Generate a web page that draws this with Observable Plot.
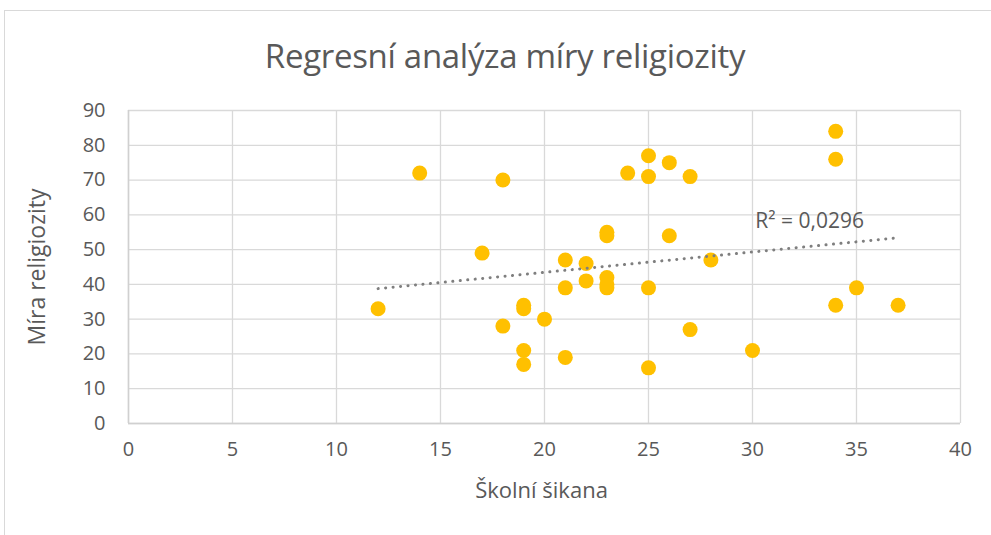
<!DOCTYPE html>
<html>
<head>
<meta charset="utf-8">
<script src="https://cdn.jsdelivr.net/npm/d3@7"></script>
<script src="https://cdn.jsdelivr.net/npm/@observablehq/plot@0.6"></script>
<style>
  html, body { margin: 0; padding: 0; background: #fff; }
  #wrap { position: relative; width: 991px; height: 535px; overflow: hidden; font-family: "Open Sans", "Noto Sans", sans-serif; }
  #border { position: absolute; left: 4px; top: 10px; width: 1000px; height: 600px; border: 1px solid #d9d9d9; box-sizing: border-box; }
  #title { position: absolute; left: 0; top: 33px; width: 1010px; text-align: center; font-size: 33px; color: #595959; font-weight: 400; letter-spacing: -0.3px; }
  #chart { position: absolute; left: 0; top: 0; }
</style>
</head>
<body>
<div id="wrap">
  <div id="border"></div>
  <div id="title">Regresní analýza míry religiozity</div>
  <div id="chart"></div>
</div>
<script>
const skolniSikana = [12, 14, 17, 18, 18, 19, 19, 19, 19, 20, 21, 21, 21, 22, 22, 23, 23, 23, 23, 23, 24, 25, 25, 25, 25, 26, 26, 27, 27, 28, 30, 34, 34, 34, 35, 37];
const miraReligiozity = [33, 72, 49, 70, 28, 34, 33, 21, 17, 30, 47, 39, 19, 46, 41, 55, 54, 42, 40, 39, 72, 77, 71, 39, 16, 75, 54, 71, 27, 47, 21, 84, 76, 34, 39, 34];
const xTicks = [0, 5, 10, 15, 20, 25, 30, 35, 40];
const yTicks = [0, 10, 20, 30, 40, 50, 60, 70, 80, 90];
const r2Label = ["R² = 0,0296"];
const r2LabelX = [32.75];
const r2LabelY = [58.1];

const data = skolniSikana.map((x, i) => ({x, y: miraReligiozity[i]}));
const labels = r2Label.map((t, i) => ({t, x: r2LabelX[i], y: r2LabelY[i]}));

const chart = Plot.plot({
  width: 991,
  height: 535,
  marginLeft: 128,
  marginRight: 31,
  marginTop: 110,
  marginBottom: 112,
  style: { fontFamily: "'Open Sans', 'Noto Sans', sans-serif", fontSize: "19px", color: "#595959", background: "transparent" },
  x: { domain: [0, 40], ticks: xTicks, label: null, axis: null },
  y: { domain: [0, 90], ticks: yTicks, label: null, axis: null },
  marks: [
    Plot.gridX(xTicks, { stroke: "#d9d9d9", strokeOpacity: 1, strokeWidth: 1.3 }),
    Plot.gridY(yTicks, { stroke: "#d9d9d9", strokeOpacity: 1, strokeWidth: 1.3 }),
    Plot.ruleY([0], { stroke: "#d0d0d0", strokeWidth: 1.5 }),
    Plot.ruleX([0], { stroke: "#d0d0d0", strokeWidth: 1.5 }),
    Plot.text(xTicks, { x: d => d, frameAnchor: "bottom", dy: 32, fontSize: 20, fill: "#595959" }),
    Plot.text(yTicks, { y: d => d, frameAnchor: "left", textAnchor: "end", dx: -23, fontSize: 20, fill: "#595959" }),
    Plot.dot(data, { x: "x", y: "y", r: 7.5, fill: "#FFC000", stroke: "none" }),
    Plot.linearRegressionY(data, { x: "x", y: "y", ci: 0, stroke: "#7f7f7f", strokeWidth: 3, strokeLinecap: "round", strokeDasharray: "0.1 7.4" }),
    Plot.text(labels, { x: "x", y: "y", text: "t", fontSize: 21, fill: "#595959" }),
    Plot.text(["Školní šikana"], { frameAnchor: "bottom", dx: -3, dy: 74, fontSize: 22, fill: "#595959" }),
    Plot.text(["Míra religiozity"], { frameAnchor: "left", textAnchor: "middle", dx: -91, rotate: -90, fontSize: 23, fill: "#595959" })
  ]
});
document.getElementById("chart").appendChild(chart);
</script>
</body>
</html>
